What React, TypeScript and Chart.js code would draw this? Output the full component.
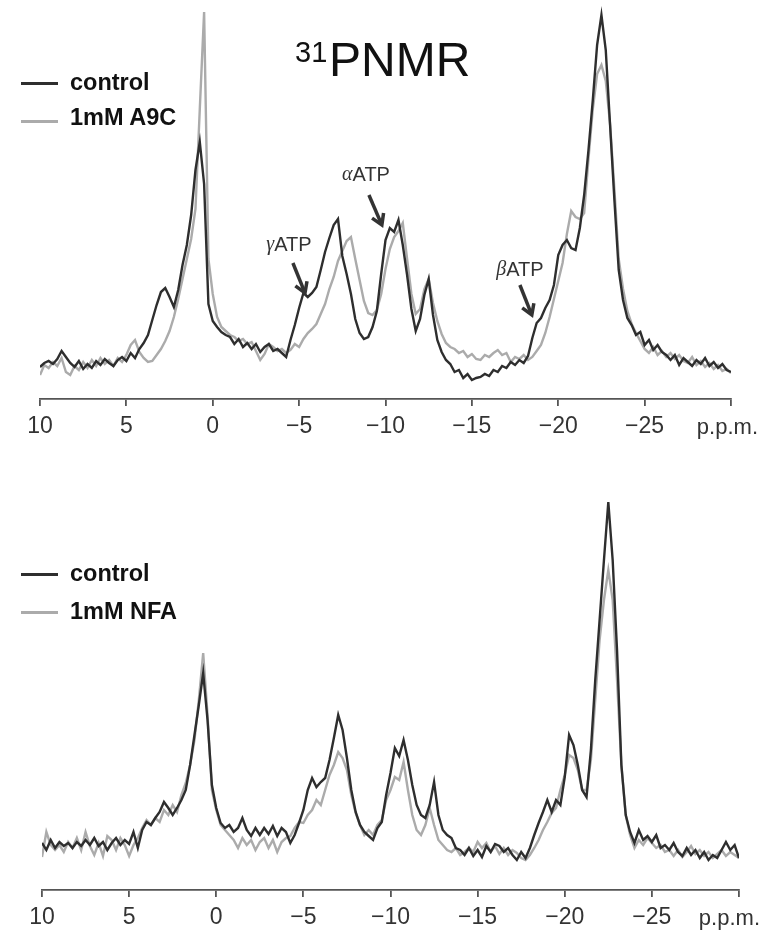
import React, { useEffect, useRef } from 'react';
import { Chart, registerables } from 'chart.js';

Chart.register(...registerables);

// ---------- axis / categories ----------
const PPM_STEP = 0.25;
const PPM_GRID: number[] = Array.from({ length: 161 }, (_, i) => 10 - i * PPM_STEP);
const TICK_VALUES = [10, 5, 0, -5, -10, -15, -20, -25, -30];
const TICK_LABELS = ['10', '5', '0', '\u22125', '\u221210', '\u221215', '\u221220', '\u221225', ''];
const AXIS_UNIT = 'p.p.m.';
const TITLE_SUP = '31';
const TITLE_MAIN = 'PNMR';

// ---------- series (intensity, arbitrary units, sampled every 0.25 p.p.m. from 10 to -30) ----------
const TOP_CONTROL = [
  32, 36, 38, 35, 40, 48, 42, 36, 32, 38, 30, 35, 31, 38, 34, 40, 36, 33, 39, 42,
  38, 46, 41, 50, 56, 64, 79, 94, 107, 111, 102, 92, 109, 134, 154, 184, 229, 257, 215, 95,
  78, 72, 67, 64, 62, 55, 60, 52, 56, 50, 55, 47, 52, 55, 48, 50, 46, 42, 59, 74,
  91, 106, 102, 106, 112, 129, 147, 161, 174, 180, 143, 125, 105, 80, 66, 60, 62, 72, 88, 125,
  159, 171, 167, 179, 154, 124, 90, 68, 80, 104, 120, 84, 59, 47, 39, 35, 27, 29, 21, 25,
  19, 21, 22, 25, 23, 29, 27, 33, 31, 37, 34, 39, 36, 43, 61, 76, 81, 91, 99, 114,
  144, 154, 159, 151, 149, 171, 204, 249, 299, 354, 384, 349, 274, 199, 129, 99, 81, 74, 64, 67,
  54, 59, 49, 54, 47, 44, 39, 44, 34, 41, 37, 33, 39, 35, 41, 33, 37, 31, 35, 29, 27,
];
const TOP_A9C = [
  24, 34, 31, 37, 33, 41, 27, 24, 33, 29, 37, 31, 39, 33, 41, 35, 39, 33, 41, 37,
  44, 54, 59, 47, 41, 37, 38, 44, 50, 58, 68, 82, 100, 120, 140, 160, 190, 290, 387, 140,
  105, 82, 72, 68, 64, 62, 58, 60, 55, 57, 48, 39, 45, 55, 52, 48, 50, 46, 49, 55,
  52, 60, 66, 70, 75, 85, 95, 110, 122, 138, 148, 158, 162, 140, 119, 98, 86, 84, 89, 105,
  130, 150, 162, 168, 176, 140, 105, 85, 90, 110, 120, 96, 78, 65, 56, 52, 50, 46, 48, 42,
  45, 40, 39, 44, 42, 46, 49, 44, 46, 37, 42, 40, 44, 39, 42, 48, 54, 66, 82, 100,
  118, 136, 165, 188, 182, 180, 186, 240, 290, 325, 334, 318, 275, 210, 140, 110, 88, 75, 66, 58,
  50, 46, 52, 44, 48, 42, 46, 40, 44, 38, 36, 42, 34, 38, 32, 36, 30, 34, 28, 30, 26,
];
const BOTTOM_CONTROL = [
  47, 40, 50, 42, 48, 44, 47, 42, 48, 44, 50, 45, 52, 44, 48, 40, 47, 52, 45, 50,
  46, 58, 42, 60, 68, 65, 72, 78, 88, 82, 75, 82, 90, 100, 125, 155, 185, 217, 170, 105,
  82, 67, 62, 65, 58, 62, 72, 60, 54, 62, 55, 62, 56, 64, 54, 62, 58, 47, 55, 67,
  80, 100, 112, 103, 108, 112, 130, 152, 175, 160, 132, 100, 78, 65, 58, 54, 50, 62, 68, 95,
  117, 142, 134, 150, 130, 105, 85, 75, 72, 85, 108, 75, 60, 55, 52, 42, 40, 35, 42, 34,
  40, 33, 44, 38, 46, 44, 38, 42, 35, 30, 38, 32, 42, 55, 67, 78, 90, 78, 90, 85,
  113, 155, 145, 125, 100, 93, 140, 210, 270, 330, 388, 330, 240, 125, 75, 58, 47, 60, 50, 54,
  48, 55, 42, 45, 40, 47, 38, 34, 42, 35, 40, 32, 38, 30, 35, 32, 40, 48, 40, 45, 32,
];
const BOTTOM_NFA = [
  33, 58, 45, 40, 45, 38, 48, 42, 52, 40, 58, 44, 35, 47, 34, 54, 50, 40, 52, 45,
  34, 45, 52, 62, 70, 65, 72, 68, 80, 75, 85, 78, 95, 107, 125, 150, 190, 237, 175, 100,
  80, 65, 60, 55, 50, 42, 52, 45, 50, 40, 48, 52, 42, 50, 38, 48, 52, 54, 62, 68,
  67, 75, 80, 90, 85, 100, 115, 125, 138, 132, 120, 95, 77, 65, 55, 60, 55, 65, 70, 90,
  100, 113, 110, 128, 100, 75, 60, 55, 65, 82, 65, 50, 45, 40, 38, 42, 35, 38, 42, 38,
  48, 42, 47, 38, 44, 36, 42, 35, 40, 37, 32, 30, 35, 42, 50, 60, 68, 77, 82, 100,
  115, 135, 132, 120, 100, 100, 130, 190, 250, 290, 320, 290, 210, 125, 75, 55, 42, 50, 45, 52,
  47, 42, 45, 38, 40, 34, 40, 33, 38, 44, 36, 40, 34, 38, 32, 36, 40, 34, 38, 35, 32,
];

const TOP_LEGEND = ['control', '1mM A9C'];
const BOTTOM_LEGEND = ['control', '1mM NFA'];

// ---------- annotations (top panel, data coordinates) ----------
const ANNOT_GREEK = ['\u03b3', '\u03b1', '\u03b2'];
const ANNOT_NAME = 'ATP';
const ANNOT_TEXT_PPM = [-4.41, -8.87, -17.78];
const ANNOT_TEXT_INT = [154, 224, 129];
const ARROW_FROM_PPM = [-4.64, -9.04, -17.78];
const ARROW_FROM_INT = [136, 204, 114];
const ARROW_TO_PPM = [-5.34, -9.79, -18.47];
const ARROW_TO_INT = [106, 174, 84];

// ---------- styles ----------
const SANS = '"Liberation Sans", Arial, Helvetica, sans-serif';
const SERIF = '"Liberation Serif", "DejaVu Serif", serif';
const DARK = '#2e2e2e';
const LIGHT = '#ababab';
const AXIS_COLOR = '#555555';
const TEXT_COLOR = '#333333';

type PanelProps = {
  top: number;
  height: number;
  padLeft: number;
  padRight: number;
  axisHeight: number;
  yMax: number;
  control: number[];
  treated: number[];
  names: string[];
  unitRight: number;
  annotate: boolean;
};

function NmrPanel(p: PanelProps) {
  const ref = useRef<HTMLCanvasElement>(null);
  useEffect(() => {
    const extras = {
      id: 'nmrExtras',
      afterDraw(chart: any) {
        const ctx = chart.ctx as CanvasRenderingContext2D;
        const xs = chart.scales.x;
        const ys = chart.scales.y;
        ctx.save();
        ctx.fillStyle = TEXT_COLOR;
        ctx.font = `22px ${SANS}`;
        ctx.textAlign = 'right';
        ctx.textBaseline = 'alphabetic';
        ctx.fillText(AXIS_UNIT, p.unitRight, xs.top + 35);
        if (p.annotate) {
          for (let i = 0; i < ANNOT_GREEK.length; i++) {
            const cx = xs.getPixelForValue(ANNOT_TEXT_PPM[i]);
            const cy = ys.getPixelForValue(ANNOT_TEXT_INT[i]);
            ctx.font = `italic 20px ${SERIF}`;
            const gw = ctx.measureText(ANNOT_GREEK[i]).width;
            ctx.font = `20px ${SANS}`;
            const aw = ctx.measureText(ANNOT_NAME).width;
            const x0 = cx - (gw + aw) / 2;
            ctx.textAlign = 'left';
            ctx.textBaseline = 'middle';
            ctx.fillStyle = TEXT_COLOR;
            ctx.font = `italic 20px ${SERIF}`;
            ctx.fillText(ANNOT_GREEK[i], x0, cy);
            ctx.font = `20px ${SANS}`;
            ctx.fillText(ANNOT_NAME, x0 + gw, cy);

            const x1 = xs.getPixelForValue(ARROW_FROM_PPM[i]);
            const y1 = ys.getPixelForValue(ARROW_FROM_INT[i]);
            const x2 = xs.getPixelForValue(ARROW_TO_PPM[i]);
            const y2 = ys.getPixelForValue(ARROW_TO_INT[i]);
            ctx.strokeStyle = '#333';
            ctx.lineWidth = 3.5;
            ctx.lineCap = 'butt';
            ctx.lineJoin = 'miter';
            ctx.beginPath();
            ctx.moveTo(x1, y1);
            ctx.lineTo(x2 - (x2 - x1) * 0.08, y2 - (y2 - y1) * 0.08);
            ctx.stroke();
            const ang = Math.atan2(y2 - y1, x2 - x1);
            const L = 12;
            ctx.beginPath();
            ctx.moveTo(x2 - L * Math.cos(ang - 0.55), y2 - L * Math.sin(ang - 0.55));
            ctx.lineTo(x2, y2);
            ctx.lineTo(x2 - L * Math.cos(ang + 0.55), y2 - L * Math.sin(ang + 0.55));
            ctx.stroke();
          }
        }
        ctx.restore();
      },
    };

    const chart = new Chart(ref.current as HTMLCanvasElement, {
      type: 'line',
      data: {
        datasets: [
          {
            label: p.names[0],
            data: PPM_GRID.map((x, i) => ({ x, y: p.control[i] })),
            borderColor: DARK,
            borderWidth: 2.4,
            pointRadius: 0,
            tension: 0,
            fill: false,
          },
          {
            label: p.names[1],
            data: PPM_GRID.map((x, i) => ({ x, y: p.treated[i] })),
            borderColor: LIGHT,
            borderWidth: 2.4,
            pointRadius: 0,
            tension: 0,
            fill: false,
          },
        ],
      },
      options: {
        animation: false,
        responsive: false,
        maintainAspectRatio: false,
        layout: { padding: { left: p.padLeft, right: p.padRight, top: 0, bottom: 0 } },
        plugins: { legend: { display: false }, tooltip: { enabled: false } },
        scales: {
          x: {
            type: 'linear',
            reverse: true,
            min: -30,
            max: 10,
            afterBuildTicks: (s: any) => {
              s.ticks = TICK_VALUES.map((v) => ({ value: v }));
            },
            afterFit: (s: any) => {
              s.height = p.axisHeight;
            },
            ticks: {
              autoSkip: false,
              maxRotation: 0,
              padding: 7,
              color: TEXT_COLOR,
              font: { family: SANS, size: 23 },
              callback: (v: any) => {
                const k = TICK_VALUES.indexOf(Number(v));
                return k >= 0 ? TICK_LABELS[k] : '';
              },
            },
            grid: { drawOnChartArea: false, drawTicks: true, tickLength: 7, color: AXIS_COLOR, lineWidth: 1.8 },
            border: { display: true, color: AXIS_COLOR, width: 1.8 },
          },
          y: { display: false, min: 0, max: p.yMax },
        },
      },
      plugins: [extras],
    } as any);
    return () => chart.destroy();
  }, []);
  return (
    <canvas
      ref={ref}
      width={774}
      height={p.height}
      style={{ position: 'absolute', left: 0, top: p.top, width: 774, height: p.height }}
    />
  );
}

function LegendRow(props: { y: number; color: string; text: string; textTop: number }) {
  return (
    <>
      <div style={{ position: 'absolute', left: 21, top: props.y - 1.5, width: 37, height: 3, background: props.color }} />
      <div
        style={{
          position: 'absolute',
          left: 70,
          top: props.textTop,
          fontFamily: SANS,
          fontWeight: 'bold',
          fontSize: 23.5,
          lineHeight: '23.5px',
          color: '#111',
          whiteSpace: 'nowrap',
        }}
      >
        {props.text}
      </div>
    </>
  );
}

export default function App() {
  return (
    <div style={{ position: 'absolute', left: 0, top: 0, width: 774, height: 930, background: '#fff', overflow: 'hidden' }}>
      <NmrPanel
        top={0}
        height={440}
        padLeft={40}
        padRight={43}
        axisHeight={41}
        yMax={399}
        control={TOP_CONTROL}
        treated={TOP_A9C}
        names={TOP_LEGEND}
        unitRight={758}
        annotate={true}
      />
      <NmrPanel
        top={450}
        height={480}
        padLeft={42}
        padRight={35}
        axisHeight={40}
        yMax={440}
        control={BOTTOM_CONTROL}
        treated={BOTTOM_NFA}
        names={BOTTOM_LEGEND}
        unitRight={760}
        annotate={false}
      />
      <div
        style={{ position: 'absolute', left: 295, top: 38, fontFamily: SANS, fontSize: 29, lineHeight: '29px', color: '#111' }}
      >
        {TITLE_SUP}
      </div>
      <div
        style={{ position: 'absolute', left: 329, top: 36, fontFamily: SANS, fontSize: 48, lineHeight: '48px', color: '#111' }}
      >
        {TITLE_MAIN}
      </div>
      <LegendRow y={83} color={DARK} text={TOP_LEGEND[0]} textTop={71} />
      <LegendRow y={121} color={LIGHT} text={TOP_LEGEND[1]} textTop={106} />
      <LegendRow y={574} color={DARK} text={BOTTOM_LEGEND[0]} textTop={562} />
      <LegendRow y={612} color={LIGHT} text={BOTTOM_LEGEND[1]} textTop={600} />
    </div>
  );
}
